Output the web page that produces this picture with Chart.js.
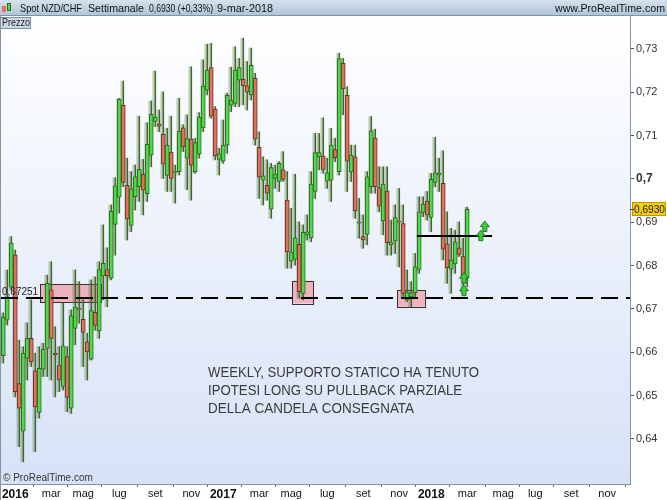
<!DOCTYPE html>
<html>
<head>
<meta charset="utf-8">
<script src="https://cdn.jsdelivr.net/npm/chart.js@4.4.1/dist/chart.umd.min.js"></script>
<style>
html, body { margin: 0; padding: 0; background: #fff; }
</style>
</head>
<body>
<canvas id="myChart" width="667" height="500"></canvas>
<script>
// weekly candles NZD/CHF, first candle = week of 14-dic-2015
var firstWeek = Date.UTC(2015, 11, 14);

var opens = [
  0.6592, 0.6674, 0.6750, 0.6825, 0.6528, 0.6418, 0.6586, 0.6632, 0.6557, 0.6461,
  0.6561, 0.6609, 0.6744, 0.6598, 0.6569, 0.6521, 0.6590, 0.6471, 0.6655, 0.6701,
  0.6676, 0.6624, 0.6584, 0.6692, 0.6649, 0.6776, 0.6791, 0.6771, 0.6895, 0.6958,
  0.7170, 0.6985, 0.6893, 0.6959, 0.6982, 0.7011, 0.6966, 0.7055, 0.7133, 0.7127,
  0.7103, 0.7008, 0.7062, 0.7015, 0.7017, 0.7118, 0.7048, 0.7092, 0.7016, 0.7057,
  0.7118, 0.7205, 0.7257, 0.7161, 0.7045, 0.7041, 0.7078, 0.7170, 0.7174, 0.7228,
  0.7230, 0.7215, 0.7194, 0.7232, 0.7073, 0.6997, 0.6985, 0.6930, 0.7001, 0.6994,
  0.7021, 0.6951, 0.6811, 0.6815, 0.6849, 0.6736, 0.6871, 0.6864, 0.6971, 0.7051,
  0.7053, 0.6995, 0.6997, 0.7068, 0.7017, 0.7267, 0.7193, 0.7016, 0.7051, 0.6898,
  0.6867, 0.6872, 0.6982, 0.7094, 0.6980, 0.6903, 0.6972, 0.6848, 0.6857, 0.6903,
  0.6897, 0.6721, 0.6728, 0.6737, 0.6791, 0.6923, 0.6949, 0.6911, 0.6992, 0.7009,
  0.6990, 0.6850, 0.6792, 0.6804, 0.6841, 0.6821, 0.6771
];
var highs = [
  0.6691, 0.6790, 0.6867, 0.6836, 0.6628, 0.6613, 0.6668, 0.6721, 0.6598, 0.6613,
  0.6621, 0.6778, 0.6809, 0.6659, 0.6613, 0.6713, 0.6613, 0.6698, 0.6790, 0.6763,
  0.6721, 0.6644, 0.6767, 0.6774, 0.6809, 0.6894, 0.6841, 0.6940, 0.7003, 0.7186,
  0.7226, 0.7048, 0.7017, 0.7032, 0.7145, 0.7045, 0.7130, 0.7180, 0.7249, 0.7159,
  0.7201, 0.7117, 0.7145, 0.7032, 0.7186, 0.7125, 0.7148, 0.7259, 0.7094, 0.7153,
  0.7275, 0.7311, 0.7313, 0.7167, 0.7071, 0.7136, 0.7198, 0.7258, 0.7305, 0.7278,
  0.7325, 0.7271, 0.7302, 0.7244, 0.7109, 0.7051, 0.7044, 0.7036, 0.7032, 0.7040,
  0.7063, 0.7017, 0.6932, 0.7011, 0.6901, 0.6894, 0.6917, 0.7017, 0.7105, 0.7105,
  0.7141, 0.7048, 0.7117, 0.7094, 0.7290, 0.7278, 0.7213, 0.7078, 0.7078, 0.6955,
  0.6917, 0.7017, 0.7144, 0.7115, 0.7028, 0.7028, 0.7028, 0.6905, 0.6940, 0.6978,
  0.6940, 0.6790, 0.6763, 0.6828, 0.6959, 0.6959, 0.6971, 0.7013, 0.7096, 0.7048,
  0.7065, 0.6924, 0.6886, 0.6882, 0.6901, 0.6863, 0.6935
];
var lows = [
  0.6575, 0.6663, 0.6744, 0.6497, 0.6382, 0.6347, 0.6536, 0.6567, 0.6371, 0.6448,
  0.6544, 0.6544, 0.6536, 0.6497, 0.6509, 0.6513, 0.6463, 0.6459, 0.6617, 0.6667,
  0.6567, 0.6536, 0.6582, 0.6651, 0.6632, 0.6721, 0.6705, 0.6767, 0.6824, 0.6921,
  0.6982, 0.6859, 0.6878, 0.6928, 0.6948, 0.6917, 0.6948, 0.7028, 0.7121, 0.7109,
  0.7001, 0.6971, 0.6971, 0.6944, 0.7009, 0.7063, 0.6975, 0.6951, 0.7013, 0.7048,
  0.7109, 0.7194, 0.7140, 0.7044, 0.7009, 0.7036, 0.7059, 0.7155, 0.7167, 0.7167,
  0.7171, 0.7159, 0.7182, 0.7078, 0.6955, 0.6940, 0.6951, 0.6909, 0.6978, 0.6971,
  0.6994, 0.6794, 0.6794, 0.6801, 0.6725, 0.6721, 0.6859, 0.6855, 0.6955, 0.7021,
  0.7013, 0.6978, 0.6948, 0.7040, 0.7009, 0.7148, 0.6971, 0.6994, 0.6909, 0.6863,
  0.6840, 0.6848, 0.6967, 0.6967, 0.6924, 0.6871, 0.6824, 0.6824, 0.6828, 0.6797,
  0.6728, 0.6717, 0.6705, 0.6728, 0.6782, 0.6913, 0.6905, 0.6878, 0.6982, 0.6971,
  0.6813, 0.6759, 0.6736, 0.6782, 0.6821, 0.6736, 0.6751
];
var closes = [
  0.6681, 0.6728, 0.6852, 0.6509, 0.6471, 0.6598, 0.6632, 0.6578, 0.6474, 0.6563,
  0.6607, 0.6759, 0.6632, 0.6594, 0.6536, 0.6615, 0.6496, 0.6684, 0.6704, 0.6699,
  0.6646, 0.6601, 0.6696, 0.6662, 0.6791, 0.6805, 0.6776, 0.6926, 0.6984, 0.7184,
  0.6992, 0.6908, 0.6977, 0.7005, 0.7022, 0.6974, 0.7080, 0.7149, 0.7143, 0.7122,
  0.7034, 0.7078, 0.7001, 0.7017, 0.7110, 0.7074, 0.7093, 0.7032, 0.7084, 0.7143,
  0.7214, 0.7251, 0.7145, 0.7053, 0.7058, 0.7078, 0.7193, 0.7182, 0.7251, 0.7257,
  0.7215, 0.7200, 0.7262, 0.7092, 0.7004, 0.7007, 0.6967, 0.7026, 0.7011, 0.7036,
  0.6999, 0.6832, 0.6831, 0.6864, 0.6740, 0.6877, 0.6878, 0.6988, 0.7061, 0.7061,
  0.7022, 0.7014, 0.7078, 0.7049, 0.7278, 0.7208, 0.7041, 0.7055, 0.6926, 0.6901,
  0.6859, 0.7005, 0.7111, 0.6982, 0.6937, 0.6988, 0.6853, 0.6854, 0.6911, 0.6900,
  0.6736, 0.6738, 0.6737, 0.6797, 0.6924, 0.6942, 0.6917, 0.6999, 0.7014, 0.7014,
  0.6838, 0.6795, 0.6813, 0.6855, 0.6826, 0.6771, 0.6930
];

// axis labels
var monthNames = ['gen', 'feb', 'mar', 'apr', 'mag', 'giu', 'lug', 'ago', 'set', 'ott', 'nov', 'dic'];
var tickYears = [2016, 2017, 2018];
var tickMonths = [0, 2, 4, 6, 8, 10];
var priceTicks = [0.64, 0.65, 0.66, 0.67, 0.68, 0.69, 0.70, 0.71, 0.72, 0.73];

// drawn objects (in weeks / price)
var supportLevel = 0.67251;
var zoneStart = [9.2, 72.3, 98.5];
var zoneEnd = [24.35, 77.5, 105.4];
var zoneTop = [0.6757, 0.6765, 0.6744];
var zoneBottom = [0.6715, 0.6713, 0.6705];
var lineFrom = 103.4, lineTo = 122.2, lineLevel = 0.6868;
var arrowWeek = [115.2, 115.2, 119.4, 120.4];
var arrowPrice = [0.6771, 0.6742, 0.6869, 0.6890];
var noteWeek = 51.2, notePrice = 0.6552;
var noteLines = ['WEEKLY, SUPPORTO STATICO HA TENUTO', 'IPOTESI LONG SU PULLBACK PARZIALE', 'DELLA CANDELA CONSEGNATA'];
var noteWidths = [271, 254, 206];

var DAY = 86400000;
var xTicks = [], xLabels = [], xBold = [];
tickYears.forEach(function(y) {
  tickMonths.forEach(function(m) {
    var d = Date.UTC(y, m, 1);
    var dow = new Date(d).getUTCDay();
    var toMonday = (8 - dow) % 7;
    xTicks.push((d + toMonday * DAY - firstWeek) / (7 * DAY));
    xLabels.push(m == 0 ? String(y) : monthNames[m]);
    xBold.push(m == 0);
  });
});

var wicks = [], bodies = [], fills = [], borders = [];
for (var i = 0; i < opens.length; i++) {
  wicks.push({x: i, y: [lows[i], highs[i]]});
  bodies.push({x: i, y: [opens[i], closes[i]]});
  var up = closes[i] >= opens[i];
  fills.push(up ? '#4fd84a' : '#e46f61');
  borders.push(up ? '#2c6a1d' : '#5e3a1e');
}

var narrow = "'Liberation Sans Narrow', 'Liberation Sans', Arial, sans-serif";
var sans = "'Liberation Sans', Arial, sans-serif";

function upArrow(ctx, cx, cy) {
  ctx.beginPath();
  ctx.moveTo(cx - 4.5, cy);
  ctx.lineTo(cx, cy - 5.5);
  ctx.lineTo(cx + 4.5, cy);
  ctx.lineTo(cx + 2, cy);
  ctx.lineTo(cx + 2, cy + 5);
  ctx.lineTo(cx - 2, cy + 5);
  ctx.lineTo(cx - 2, cy);
  ctx.closePath();
  ctx.fillStyle = '#3fcb3c';
  ctx.fill();
  ctx.strokeStyle = '#1f7a1c';
  ctx.lineWidth = 1;
  ctx.stroke();
}

var prtPlugin = {
  id: 'prt',
  beforeDraw: function(chart) {
    var ctx = chart.ctx, a = chart.chartArea;
    ctx.save();
    ctx.fillStyle = '#fff';
    ctx.fillRect(0, 0, chart.width, chart.height);
    var g = ctx.createLinearGradient(0, a.top, 0, a.bottom);
    g.addColorStop(0, '#ffffff');
    g.addColorStop(1, '#d7e2f7');
    ctx.fillStyle = g;
    ctx.fillRect(a.left, a.top, a.right - a.left, a.bottom - a.top);

    // header bar
    var h = ctx.createLinearGradient(0, 0, 0, 16);
    h.addColorStop(0, '#d6e2ee');
    h.addColorStop(1, '#aec3d7');
    ctx.fillStyle = h;
    ctx.fillRect(0, 0, chart.width, 16);
    ctx.fillStyle = '#7f93a6';
    ctx.fillRect(0, 15, chart.width, 1);
    // little candle icon
    ctx.fillStyle = '#e46f61'; ctx.fillRect(2, 6, 4, 6);
    ctx.fillStyle = '#4fd84a'; ctx.fillRect(7, 3, 4, 8);
    ctx.strokeStyle = '#2c6a1d'; ctx.lineWidth = 1;
    ctx.strokeRect(7.5, 3.5, 3, 7);
    ctx.fillStyle = '#111';
    ctx.font = '11px ' + narrow;
    ctx.textBaseline = 'middle';
    ctx.fillText('Spot NZD/CHF', 20, 9, 62);
    ctx.fillText('Settimanale', 88, 9, 56);
    ctx.fillText('0,6930 (+0,33%)', 149, 9, 64);
    ctx.fillText('9-mar-2018', 217, 9, 56);
    ctx.textAlign = 'right';
    ctx.fillText('www.ProRealTime.com', 665, 9, 110);
    ctx.restore();
  },
  beforeDatasetsDraw: function(chart) {
    var ctx = chart.ctx, xs = chart.scales.x, ys = chart.scales.y;
    ctx.save();
    for (var i = 0; i < zoneStart.length; i++) {
      var x0 = xs.getPixelForValue(zoneStart[i]), x1 = xs.getPixelForValue(zoneEnd[i]);
      var y0 = ys.getPixelForValue(zoneTop[i]), y1 = ys.getPixelForValue(zoneBottom[i]);
      ctx.fillStyle = 'rgba(238,166,178,0.85)';
      ctx.fillRect(x0, y0, x1 - x0, y1 - y0);
      ctx.strokeStyle = '#333';
      ctx.lineWidth = 1;
      ctx.strokeRect(Math.round(x0) + 0.5, Math.round(y0) + 0.5, Math.round(x1 - x0), Math.round(y1 - y0));
    }
    ctx.restore();
  },
  beforeDatasetDraw: function(chart, args) {
    var ctx = chart.ctx;
    ctx.save();
    ctx.shadowColor = args.index == 0 ? 'rgba(90,110,90,0.35)' : 'rgba(90,110,90,0.18)';
    ctx.shadowOffsetX = args.index == 0 ? -2 : -1;
    ctx.shadowOffsetY = 0;
    ctx.shadowBlur = 0;
  },
  afterDatasetDraw: function(chart) {
    chart.ctx.restore();
  },
  afterDatasetsDraw: function(chart) {
    var ctx = chart.ctx, a = chart.chartArea, xs = chart.scales.x, ys = chart.scales.y;
    ctx.save();
    // support line
    var sy = Math.round(ys.getPixelForValue(supportLevel));
    ctx.strokeStyle = '#000';
    ctx.lineWidth = 2;
    ctx.setLineDash([17, 8]);
    ctx.beginPath();
    ctx.moveTo(a.left, sy);
    ctx.lineTo(a.right, sy);
    ctx.stroke();
    ctx.setLineDash([]);
    ctx.fillStyle = '#222';
    ctx.font = '10px ' + sans;
    ctx.textBaseline = 'bottom';
    ctx.fillText('0,67251', a.left + 1, sy - 1);

    // horizontal line on last candles
    var ly = Math.round(ys.getPixelForValue(lineLevel));
    ctx.lineWidth = 2;
    ctx.beginPath();
    ctx.moveTo(xs.getPixelForValue(lineFrom), ly);
    ctx.lineTo(xs.getPixelForValue(lineTo), ly);
    ctx.stroke();

    for (var i = 0; i < arrowWeek.length; i++) {
      upArrow(ctx, xs.getPixelForValue(arrowWeek[i]), ys.getPixelForValue(arrowPrice[i]));
    }

    // note
    ctx.fillStyle = '#3a3a3a';
    ctx.font = '14px ' + sans;
    ctx.textBaseline = 'middle';
    var nx = xs.getPixelForValue(noteWeek), ny = ys.getPixelForValue(notePrice);
    noteLines.forEach(function(t, k) {
      ctx.fillText(t, nx, ny + k * 18, noteWidths[k]);
    });

    ctx.fillStyle = '#333';
    ctx.font = '10px ' + narrow;
    ctx.fillText('\u00a9 ProRealTime.com', a.left + 2, a.bottom - 6);
    ctx.restore();
  },
  afterDraw: function(chart) {
    var ctx = chart.ctx, a = chart.chartArea, ys = chart.scales.y;
    ctx.save();
    // frame
    ctx.fillStyle = '#8495a6';
    ctx.fillRect(0, a.top, 1, chart.height - a.top);
    // Prezzo tag
    ctx.fillStyle = '#cdd9e5';
    ctx.fillRect(0, 17, 31, 12);
    ctx.strokeStyle = '#7f93a6';
    ctx.lineWidth = 1;
    ctx.strokeRect(0.5, 17.5, 30, 11);
    ctx.fillStyle = '#222';
    ctx.font = '10px ' + narrow;
    ctx.textBaseline = 'middle';
    ctx.fillText('Prezzo', 2, 23.5, 28);
    // last price label
    var last = closes[closes.length - 1];
    var py = Math.round(ys.getPixelForValue(last));
    ctx.fillStyle = '#f3cd0e';
    ctx.fillRect(632, py - 7, 34, 14);
    ctx.strokeStyle = '#b8950a';
    ctx.strokeRect(632.5, py - 6.5, 33, 13);
    ctx.fillStyle = '#222';
    ctx.font = '11px ' + sans;
    ctx.fillText(last.toFixed(4).replace('.', ','), 634, py + 0.5, 31);
    ctx.fillStyle = '#444';
    ctx.fillRect(a.right, py, 4, 1);
    ctx.restore();
  }
};

new Chart(document.getElementById('myChart'), {
  type: 'bar',
  data: {
    datasets: [
      {
        label: 'wick',
        data: wicks,
        backgroundColor: '#3d6923',
        barThickness: 1,
        grouped: false,
        order: 2
      },
      {
        label: 'body',
        data: bodies,
        backgroundColor: fills,
        borderColor: borders,
        borderWidth: 1,
        borderSkipped: false,
        barThickness: 4,
        minBarLength: 1,
        grouped: false,
        order: 1
      }
    ]
  },
  options: {
    responsive: false,
    animation: false,
    devicePixelRatio: 1,
    layout: {padding: {top: 16, left: 1, right: 0, bottom: 0}},
    plugins: {legend: {display: false}, tooltip: {enabled: false}},
    scales: {
      x: {
        type: 'linear',
        min: -0.575,
        max: 156.7,
        offset: false,
        afterFit: function(s) { s.height = 16; },
        afterBuildTicks: function(s) {
          s.ticks = xTicks.map(function(v) { return {value: v}; });
        },
        grid: {drawOnChartArea: false, tickLength: 3, color: '#666'},
        border: {color: '#8495a6'},
        ticks: {
          autoSkip: false,
          maxRotation: 0,
          padding: 0,
          color: '#111',
          font: function(c) {
            return xBold[c.index] ? {family: sans, size: 12, weight: 'bold'} : {family: narrow, size: 11};
          },
          callback: function(v, i) { return xLabels[i]; }
        }
      },
      y: {
        position: 'right',
        min: 0.6296,
        max: 0.7376,
        afterFit: function(s) { s.width = 37; },
        afterBuildTicks: function(s) {
          s.ticks = priceTicks.map(function(v) { return {value: v}; });
        },
        grid: {drawOnChartArea: false, tickLength: 4, color: '#555'},
        border: {color: '#8495a6'},
        ticks: {
          padding: 2,
          color: '#333',
          font: function(c) {
            var bold = c.tick && Math.abs(c.tick.value - 0.7) < 1e-6;
            return {family: sans, size: bold ? 12 : 11, weight: bold ? 'bold' : 'normal'};
          },
          callback: function(v) { return String(+v.toFixed(2)).replace('.', ','); }
        }
      }
    }
  },
  plugins: [prtPlugin]
});
</script>
</body>
</html>
